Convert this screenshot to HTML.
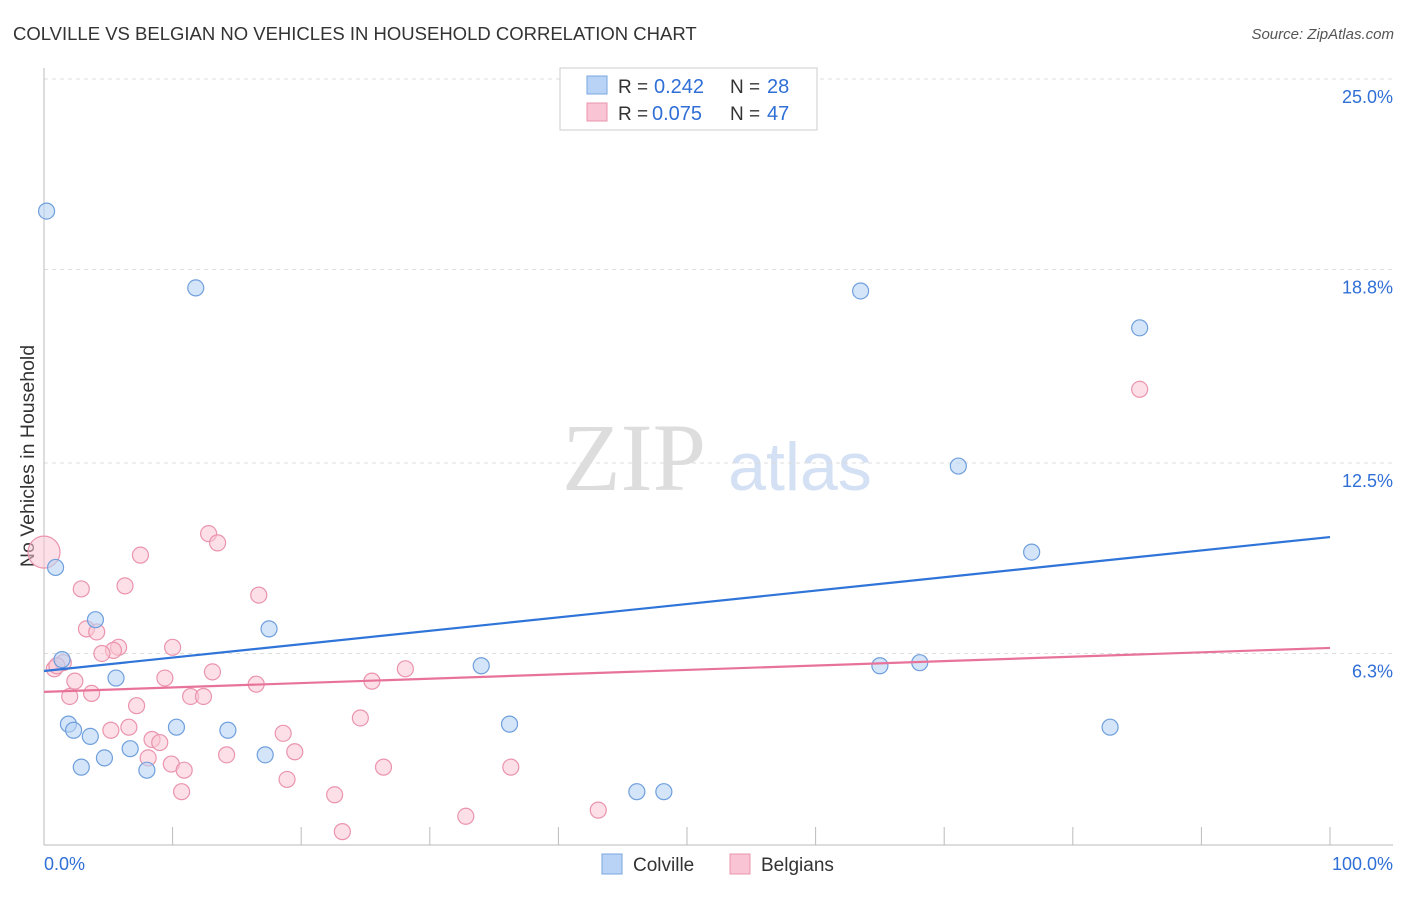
<!DOCTYPE html>
<html><head><meta charset="utf-8"><style>
body{margin:0;background:#fff;font-family:"Liberation Sans",sans-serif}
</style></head><body>
<svg id="chart" width="1406" height="892" xmlns="http://www.w3.org/2000/svg">
<text x="13" y="40" font-size="18.5" fill="#333">COLVILLE VS BELGIAN NO VEHICLES IN HOUSEHOLD CORRELATION CHART</text>
<text x="1394" y="39" font-size="15" fill="#555" font-style="italic" text-anchor="end">Source: ZipAtlas.com</text>
<text x="634" y="490" font-size="96" fill="#ddd" font-family="Liberation Serif,serif" text-anchor="middle">ZIP</text>
<text x="800" y="490" font-size="68" fill="#d4e0f3" text-anchor="middle">atlas</text>
<text transform="translate(34,456) rotate(-90)" font-size="19.5" fill="#333" text-anchor="middle">No Vehicles in Household</text>
<g id="grid"></g><g id="marks"></g>
<g>
<rect x="560" y="68" width="257" height="62" fill="#fff" stroke="#ccc"/>
<rect x="587" y="76" width="20" height="18" fill="#b8d3f5" stroke="#7aa7e0"/>
<text x="618" y="93" font-size="19" fill="#333">R =</text>
<text x="654" y="93" font-size="20" fill="#2f6fd6">0.242</text>
<text x="730" y="93" font-size="19" fill="#333">N =</text>
<text x="767" y="93" font-size="20" fill="#2f6fd6">28</text>
<rect x="587" y="103" width="20" height="18" fill="#f9c5d4" stroke="#ea94ad"/>
<text x="618" y="120" font-size="19" fill="#333">R =</text>
<text x="652" y="120" font-size="20" fill="#2f6fd6">0.075</text>
<text x="730" y="120" font-size="19" fill="#333">N =</text>
<text x="767" y="120" font-size="20" fill="#2f6fd6">47</text>
</g>
<g>
<rect x="602" y="854" width="20" height="20" fill="#b8d3f5" stroke="#7aa7e0"/>
<text x="633" y="871" font-size="19" fill="#333">Colville</text>
<rect x="730" y="854" width="20" height="20" fill="#f9c5d4" stroke="#ea94ad"/>
<text x="761" y="871" font-size="19" fill="#333">Belgians</text>
</g>
<text x="44" y="870" font-size="18" fill="#2f6fd6">0.0%</text>
<text x="1393" y="870" font-size="18" fill="#2f6fd6" text-anchor="end">100.0%</text>
</svg>
<script>
const yTicks=[25,18.8,12.5,6.3];
const yTickLabels=["25.0%","18.8%","12.5%","6.3%"];
const colvilleX=[0.2,11.8,63.5,85.2,71.1,76.8,0.9,4,17.5,1.4,34,65,68.1,5.6,36.2,82.9,1.9,2.3,10.3,14.3,3.6,6.7,17.2,4.7,2.9,8,46.1,48.2];
const colvilleY=[20.7,18.2,18.1,16.9,12.4,9.6,9.1,7.4,7.1,6.1,5.9,5.9,6,5.5,4.0,3.9,4.0,3.8,3.9,3.8,3.6,3.2,3.0,2.9,2.6,2.5,1.8,1.8];
const belgX=[0,0.8,1.5,2.9,7.5,6.3,12.8,13.5,16.7,3.3,4.1,5.8,5.4,4.5,10,13.1,9.4,28.1,25.5,16.5,2.4,3.7,2,11.4,12.4,7.2,24.6,6.6,5.2,18.6,8.4,9,19.5,14.2,8.1,9.9,10.9,26.4,36.3,18.9,10.7,22.6,43.1,32.8,23.2,85.2,1];
const belgY=[9.6,5.8,6,8.4,9.5,8.5,10.2,9.9,8.2,7.1,7,6.5,6.4,6.3,6.5,5.7,5.5,5.8,5.4,5.3,5.4,5,4.9,4.9,4.9,4.6,4.2,3.9,3.8,3.7,3.5,3.4,3.1,3,2.9,2.7,2.5,2.6,2.6,2.2,1.8,1.7,1.2,1,0.5,14.9,5.9];
const colTrend=[5.73,10.09];
const belTrend=[5.05,6.48];
const X=v=>44+v*12.86, Y=v=>847-v*30.72;
const NS="http://www.w3.org/2000/svg";
function mk(t,a,p){const e=document.createElementNS(NS,t);for(const k in a)e.setAttribute(k,a[k]);p.appendChild(e);return e;}
const g=document.getElementById('grid'),m=document.getElementById('marks');
yTicks.forEach((t,i)=>{
 const l=mk('line',{x1:44,x2:1393,y1:Y(t),y2:Y(t),stroke:'#ddd','stroke-dasharray':'4,4'},g);
 
 
 const tx=mk('text',{x:1393,y:Y(t)+24,'font-size':18,fill:'#2f6fd6','text-anchor':'end'},g);
 tx.textContent=yTickLabels[i];
 
 
});
const ax=mk('line',{x1:44,x2:1393,y1:845,y2:845,stroke:'#bbb'},g);


const ay=mk('line',{x1:44,x2:44,y1:68,y2:845,stroke:'#bbb'},g);


for(let i=1;i<=10;i++){const t=mk('line',{x1:X(i*10),x2:X(i*10),y1:827,y2:845,stroke:'#bbb'},g);
 
 }
belgX.forEach((v,i)=>{const c=mk('circle',{cx:X(v),cy:Y(belgY[i]),r:i==0?16:8,fill:'#f9c5d4','fill-opacity':0.55,stroke:'#ea94ad','stroke-width':1.2},m);
 
 });
colvilleX.forEach((v,i)=>{const c=mk('circle',{cx:X(v),cy:Y(colvilleY[i]),r:8,fill:'#b8d3f5','fill-opacity':0.6,stroke:'#6f9fdc','stroke-width':1.2},m);
 
 });
const bl=mk('line',{x1:X(0),x2:X(100),y1:Y(belTrend[0]),y2:Y(belTrend[1]),stroke:'#e8739a','stroke-width':2.2},m);


const cl=mk('line',{x1:X(0),x2:X(100),y1:Y(colTrend[0]),y2:Y(colTrend[1]),stroke:'#2f74d8','stroke-width':2.2},m);


</script>
</body></html>
